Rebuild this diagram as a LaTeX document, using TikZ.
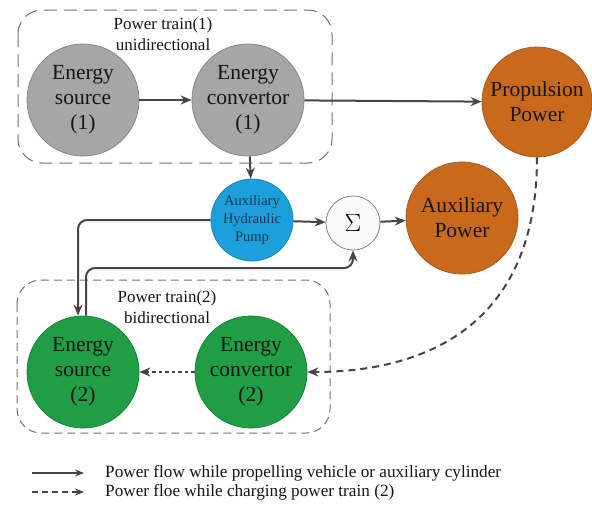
\documentclass[tikz,border=0pt]{standalone}
\usepackage{fontspec}
\setmainfont{Liberation Serif}
\usetikzlibrary{arrows.meta,calc}
\definecolor{grayfill}{HTML}{A6A6A6}
\definecolor{grayline}{HTML}{858585}
\definecolor{orangefill}{HTML}{C8691C}
\definecolor{orangeline}{HTML}{A9581A}
\definecolor{bluefill}{HTML}{1BA0DC}
\definecolor{blueline}{HTML}{1787BA}
\definecolor{greenfill}{HTML}{1F9E45}
\definecolor{greenline}{HTML}{178236}
\definecolor{linecol}{HTML}{454545}
\definecolor{boxcol}{HTML}{707070}
\definecolor{txt}{HTML}{141414}
\definecolor{pumptxt}{HTML}{1F3550}
\tikzset{
  unit/.style={circle, line width=0.8pt, align=center, text=txt,
    font=\fontsize{21.5}{25}\selectfont, inner sep=0pt},
  graynode/.style={unit, fill=grayfill, draw=grayline, minimum size=112pt},
  orangenode/.style={unit, fill=orangefill, draw=orangeline, minimum size=110pt},
  greennode/.style={unit, fill=greenfill, draw=greenline, minimum size=112pt},
  pumpnode/.style={unit, fill=bluefill, draw=blueline, minimum size=82pt,
    text=pumptxt, font=\fontsize{14.5}{18}\selectfont},
  sumnode/.style={circle, fill=white!96!gray, draw=grayline, line width=0.8pt,
    minimum size=54pt, inner sep=0pt, font=\fontsize{27}{28}\selectfont},
  titletxt/.style={align=center, text=txt, font=\fontsize{17}{21}\selectfont},
  legtxt/.style={anchor=west, text=txt, font=\fontsize{17.2}{20}\selectfont, inner sep=0pt},
  flow/.style={draw=linecol, line width=2pt, -{Stealth[length=11pt,width=9pt]}},
  charge/.style={flow, dash pattern=on 7pt off 5pt},
  dotflow/.style={flow, dash pattern=on 3.5pt off 3pt},
  trainbox/.style={draw=boxcol, line width=1pt, rounded corners=24pt},
}
\begin{document}
\begin{tikzpicture}[x=1pt,y=-1pt]
\useasboundingbox (0,0) rectangle (592,515);
% boxes
\draw[trainbox, dash pattern=on 13pt off 7pt] (18,10) rectangle (332,163);
\draw[trainbox, dash pattern=on 8pt off 5pt] (17,280) rectangle (330,433);
\node[titletxt] (t1) at (163,34) {Power train(1)\\unidirectional};
\node[titletxt] (t2) at (167,307) {Power train(2)\\bidirectional};
% nodes
\node[graynode] (es1) at (83,100) {Energy\\source\\(1)};
\node[graynode] (ec1) at (248,100) {Energy\\convertor\\(1)};
\node[orangenode] (prop) at (537,102) {Propulsion\\Power};
\node[pumpnode] (pump) at (252,220) {Auxiliary\\Hydraulic\\Pump};
\node[sumnode] (sig) at (353,223) {$\Sigma$};
\node[orangenode, minimum size=112pt] (aux) at (462,218) {Auxiliary\\Power};
\node[greennode] (es2) at (83,372) {Energy\\source\\(2)};
\node[greennode] (ec2) at (251,372) {Energy\\convertor\\(2)};
% connectors
\draw[flow] (es1) -- (ec1);
\draw[flow] (ec1) -- (prop);
\draw[flow] (ec1) -- (pump);
\draw[flow] (pump) -- (sig);
\draw[flow] (sig) -- (aux);
\coordinate (in2) at ([xshift=-5pt]es2.north);
\coordinate (out2) at ([xshift=3pt]es2.north);
\coordinate (k2) at (out2 |- 0,268);
\draw[flow, rounded corners=9pt] (pump.west) -| (in2);
\draw[flow, rounded corners=9pt] (out2) -- (k2) -| (sig.south);
\draw[charge] (prop.south) .. controls (537,330) and (420,372) .. (ec2.east);
\draw[dotflow] (ec2) -- (es2);
% legend
\coordinate (l1a) at (32,473);
\coordinate (l1b) at (84,473);
\coordinate (l2a) at (32,492);
\coordinate (l2b) at (84,492);
\draw[flow, -{Stealth[length=9pt,width=7pt]}] (l1a) -- (l1b);
\draw[charge, dash pattern=on 6pt off 4pt, -{Stealth[length=9pt,width=7pt]}] (l2a) -- (l2b);
\node[legtxt] (lt1) at (105,473) {Power flow while propelling vehicle or auxiliary cylinder};
\node[legtxt] (lt2) at (105,492) {Power floe while charging power train (2)};
\end{tikzpicture}
\end{document}
